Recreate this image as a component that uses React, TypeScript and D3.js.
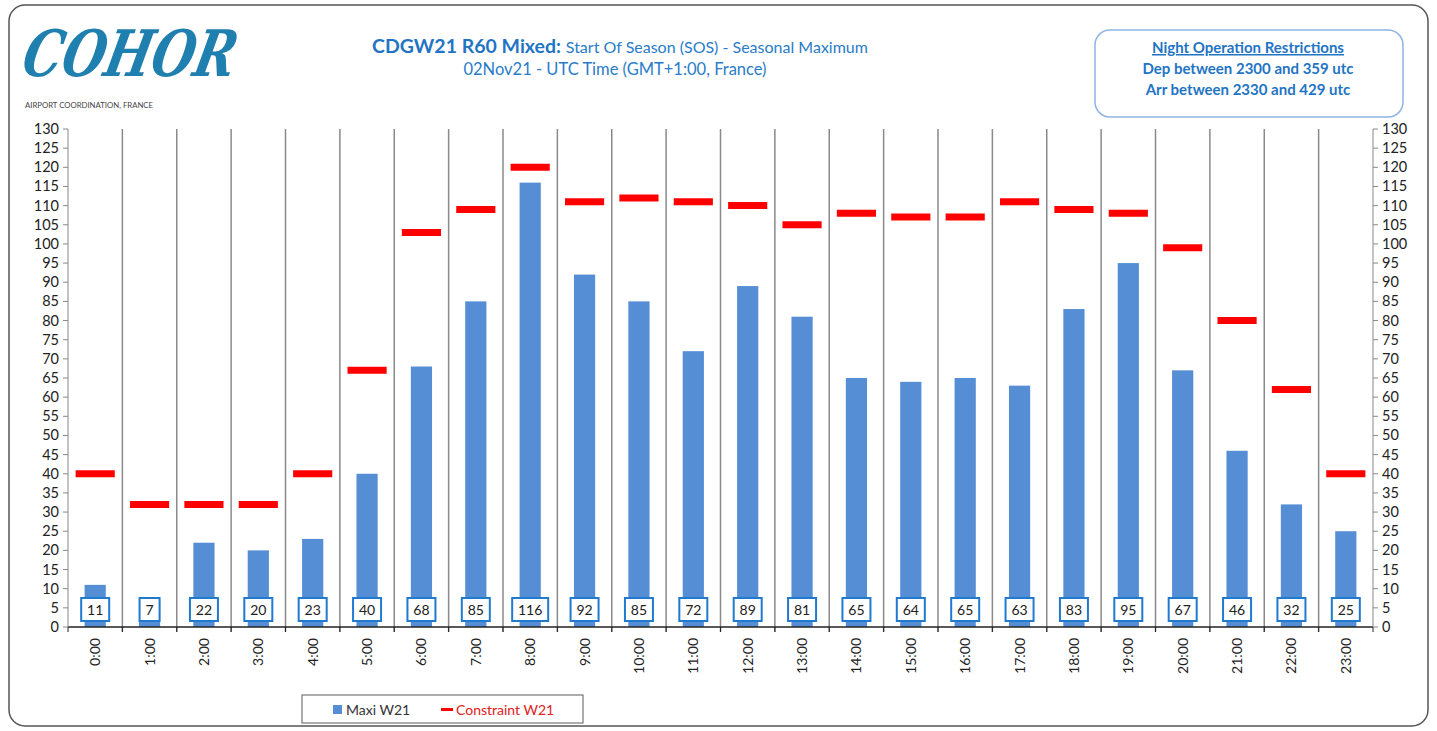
import React from 'react';
import * as d3 from 'd3';

const hours = ['0:00', '1:00', '2:00', '3:00', '4:00', '5:00', '6:00', '7:00', '8:00', '9:00', '10:00', '11:00',
  '12:00', '13:00', '14:00', '15:00', '16:00', '17:00', '18:00', '19:00', '20:00', '21:00', '22:00', '23:00'];
const maxiW21 = [11, 7, 22, 20, 23, 40, 68, 85, 116, 92, 85, 72, 89, 81, 65, 64, 65, 63, 83, 95, 67, 46, 32, 25];
const constraintW21 = [40, 32, 32, 32, 40, 67, 103, 109, 120, 111, 112, 111, 110, 105, 108, 107, 107, 111, 109, 108, 99, 80, 62, 40];
const yTicks = d3.range(0, 131, 5);

const W = 1437;
const H = 731;
const FONT = 'Lato, "Open Sans", sans-serif';
const BLUE = '#1f74c4';

export default function App() {
  const left = 68;
  const right = 1373;
  const top = 129;
  const bottom = 627;

  const x = d3.scaleBand<string>().domain(hours).range([left, right]).paddingInner(0).paddingOuter(0);
  const y = d3.scaleLinear().domain([0, 130]).range([bottom, top]);
  const bw = x.bandwidth();
  const barW = bw * 0.39;
  const dashW = bw * 0.72;

  return (
    <svg width={W} height={H} style={{ position: 'absolute', left: 0, top: 0, background: '#fff' }} fontFamily={FONT}>
      <rect x={9} y={5} width={1419} height={721} rx={16} fill="#fff" stroke="#555" strokeWidth={1.5} />

      {/* logo */}
      <text x={22} y={76} fontSize={64} fontStyle="italic" fontWeight={700} fill="#1f7fae"
        fontFamily='"DejaVu Serif", serif' transform="skewX(-12) translate(14,0)" textLength={212} lengthAdjust="spacingAndGlyphs">
        COHOR
      </text>
      <text x={25} y={108} fontSize={8} fill="#444" textLength={128} lengthAdjust="spacingAndGlyphs">AIRPORT COORDINATION, FRANCE</text>

      {/* title */}
      <text x={620} y={53} textAnchor="middle" fill={BLUE}>
        <tspan fontSize={19.5} fontWeight={700}>CDGW21 R60 Mixed: </tspan>
        <tspan fontSize={16} fill="#2a7cc8">Start Of Season (SOS) - Seasonal Maximum</tspan>
      </text>
      <text x={615} y={75} textAnchor="middle" fontSize={16.5} fill="#2a7cc8">02Nov21 - UTC Time (GMT+1:00, France)</text>

      {/* restrictions box */}
      <rect x={1095} y={30} width={308} height={87} rx={15} fill="#fff" stroke="#8fb4e3" strokeWidth={1.5} />
      <g fontSize={15} fontWeight={700} fill={BLUE} textAnchor="middle">
        <text x={1248} y={53} textDecoration="underline">Night Operation Restrictions</text>
        <text x={1248} y={74}>Dep between 2300 and 359 utc</text>
        <text x={1248} y={95}>Arr between 2330 and 429 utc</text>
      </g>

      {/* category separators */}
      {hours.slice(1).map(h => (
        <line key={'s' + h} x1={x(h)!} x2={x(h)!} y1={top} y2={bottom + 5} stroke="#8a8a8a" strokeWidth={1.5} />
      ))}

      {/* bars */}
      {maxiW21.map((v, i) => (
        <rect key={'b' + i} x={x(hours[i])! + bw / 2 - barW / 2} y={y(v)} width={barW} height={y(0) - y(v)} fill="#558ed5" />
      ))}

      {/* constraint dashes */}
      {constraintW21.map((v, i) => (
        <line key={'c' + i} x1={x(hours[i])! + bw / 2 - dashW / 2} x2={x(hours[i])! + bw / 2 + dashW / 2}
          y1={y(v)} y2={y(v)} stroke="#ff0000" strokeWidth={7} />
      ))}

      {/* value labels */}
      {maxiW21.map((v, i) => {
        const s = String(v);
        const w = s.length === 1 ? 20 : s.length === 2 ? 28 : 36;
        const cx = x(hours[i])! + bw / 2;
        return (
          <g key={'l' + i}>
            <rect x={cx - w / 2} y={598} width={w} height={23} fill="#fff" stroke="#1f7ad0" strokeWidth={2} />
            <text x={cx} y={614.5} textAnchor="middle" fontSize={14} fill="#222">{s}</text>
          </g>
        );
      })}

      {/* axes */}
      <line x1={left} x2={right} y1={bottom} y2={bottom} stroke="#222" strokeWidth={1.5} />
      <line x1={left} x2={left} y1={top} y2={bottom} stroke="#888" strokeWidth={1} />
      <line x1={right} x2={right} y1={top} y2={bottom} stroke="#888" strokeWidth={1} />
      {[left, ...hours.slice(1).map(h => x(h)!), right].map((tx, i) => (
        <line key={'xt' + i} x1={tx} x2={tx} y1={bottom} y2={bottom + 5} stroke="#222" strokeWidth={1} />
      ))}
      {yTicks.map(t => (
        <g key={'yt' + t} fontSize={14.5} fill="#222">
          <line x1={left - 5} x2={left} y1={y(t)} y2={y(t)} stroke="#888" />
          <line x1={right} x2={right + 5} y1={y(t)} y2={y(t)} stroke="#888" />
          <text x={left - 9} y={y(t) + 5} textAnchor="end">{t}</text>
          <text x={right + 9} y={y(t) + 5} textAnchor="start">{t}</text>
        </g>
      ))}

      {/* x labels */}
      {hours.map(h => (
        <text key={'xl' + h} transform={`translate(${x(h)! + bw / 2 + 5},${bottom + 11}) rotate(-90)`}
          textAnchor="end" fontSize={14} fill="#222">{h}</text>
      ))}

      {/* legend */}
      <rect x={302} y={695} width={281} height={28} fill="#fff" stroke="#777" strokeWidth={1.2} />
      <rect x={333} y={705} width={9} height={9} fill="#558ed5" />
      <text x={346} y={714.5} fontSize={14} fill="#333">Maxi W21</text>
      <line x1={441} x2={453} y1={709.5} y2={709.5} stroke="#ff0000" strokeWidth={3} />
      <text x={456} y={714.5} fontSize={14} fill="#e02020">Constraint W21</text>
    </svg>
  );
}
